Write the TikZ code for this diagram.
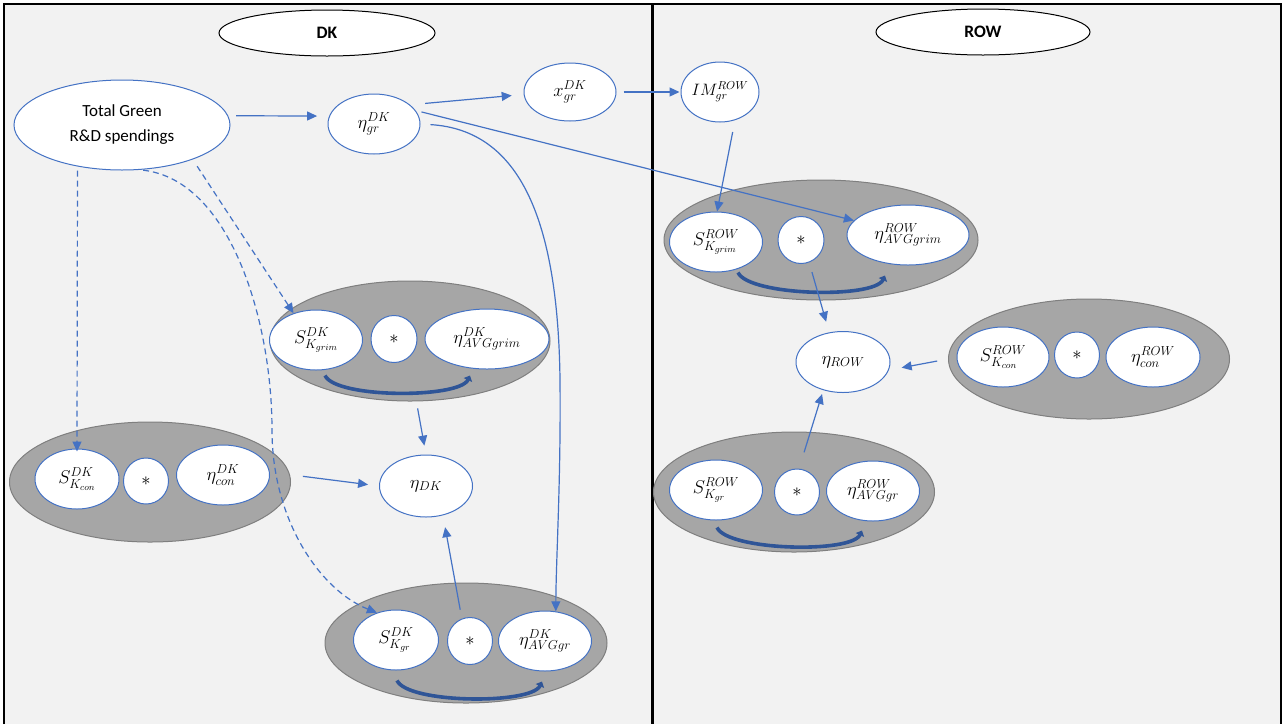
\RequirePackage{fix-cm}
\documentclass[tikz,border=0pt]{standalone}
\usepackage{fontspec}
\setmainfont{Carlito}
\usetikzlibrary{shapes.geometric,arrows.meta}
\definecolor{bl}{HTML}{4472C4}
\definecolor{dbl}{HTML}{2F5597}
\definecolor{bgc}{HTML}{F2F2F2}
\definecolor{grpc}{HTML}{A6A6A6}
\definecolor{grpb}{HTML}{7F7F7F}
\tikzset{
  e/.style 2 args={minimum width=#1, minimum height=#2},
  bub/.style={ellipse, draw=bl, fill=white, line width=1pt, inner sep=0pt, font=\fontsize{18.5}{21}\selectfont},
  ttl/.style={ellipse, draw=black, fill=white, line width=1pt, inner sep=0pt, minimum width=216, minimum height=46, font=\bfseries\fontsize{17.5}{20}\selectfont},
  grp/.style={ellipse, draw=grpb, fill=grpc, line width=1pt, inner sep=0pt},
  conn/.style={draw=bl, line width=1.2pt, -{Triangle[length=10pt 0,width=9pt 0]}},
  dconn/.style={conn, dash pattern=on 6pt off 4pt},
  swoosh/.style={draw=dbl, line width=3.6pt, -{Triangle[length=5pt 0,width=9pt 0]}}
}
\begin{document}
\begin{tikzpicture}[x=1pt,y=-1pt]
\useasboundingbox (0,0) rectangle (1284,724);
\fill[bgc] (4,4) rectangle (1281,724);
\draw[line width=2pt] (4,724) -- (4,4) -- (1281,4) -- (1281,724);
\draw[line width=3pt] (652,4) -- (652,724);

% titles
\node[ttl] (tdk) at (327,33) {DK};
\node[ttl, minimum width=214] (trow) at (983,32) {ROW};

% top nodes
\node[bub, e={216}{90}, align=center, font=\fontsize{17}{25}\selectfont] (tg) at (122,125) {Total Green\\R\&D spendings};
\node[bub, e={92}{60}] (egr) at (374,124) {$\eta^{DK}_{gr}$};
\node[bub, e={92}{58}] (xgr) at (570,92) {$x^{DK}_{gr}$};
\node[bub, e={78}{60}, inner xsep=-12pt, font=\fontsize{16.5}{19}\selectfont] (im) at (720,92) {$IM^{ROW}_{gr}$};

% DK grim group
\node[grp, e={280}{120}] (gA) at (410,341) {};
\node[bub, e={93}{60}] (aS) at (316,340) {$S^{DK}_{K_{grim}}$};
\node[bub, e={46}{47}] (aX) at (394,339) {$*$};
\node[bub, e={124}{60}] (aE) at (487,339) {$\eta^{DK}_{AVGgrim}$};

% DK con group
\node[grp, e={281}{120}] (gB) at (150,482) {};
\node[bub, e={84}{60}] (bS) at (77,479) {$S^{DK}_{K_{con}}$};
\node[bub, e={45}{46}] (bX) at (146,481) {$*$};
\node[bub, e={93}{60}] (bE) at (223,475) {$\eta^{DK}_{con}$};

% eta DK
\node[bub, e={93}{62}] (edk) at (426,486) {$\eta_{DK}$};

% DK gr group
\node[grp, e={282}{120}] (gC) at (466,643) {};
\node[bub, e={85}{60}] (cS) at (396,640) {$S^{DK}_{K_{gr}}$};
\node[bub, e={45}{47}] (cX) at (470,641) {$*$};
\node[bub, e={93}{60}] (cE) at (545,641) {$\eta^{DK}_{AVGgr}$};

% ROW grim group
\node[grp, e={314}{120}] (rA) at (821,240) {};
\node[bub, e={93}{60}] (raS) at (716,242) {$S^{ROW}_{K_{grim}}$};
\node[bub, e={46}{47}] (raX) at (801,240) {$*$};
\node[bub, e={122}{60}] (raE) at (908,235) {$\eta^{ROW}_{AVGgrim}$};

% eta ROW
\node[bub, e={94}{61}] (erow) at (843,362) {$\eta_{ROW}$};

% ROW con group
\node[grp, e={281}{120}] (rB) at (1089,359) {};
\node[bub, e={92}{60}] (rbS) at (1003,357) {$S^{ROW}_{K_{con}}$};
\node[bub, e={45}{46}] (rbX) at (1077,355) {$*$};
\node[bub, e={94}{60}] (rbE) at (1153,357) {$\eta^{ROW}_{con}$};

% ROW gr group
\node[grp, e={281}{120}] (rC) at (794,492) {};
\node[bub, e={93}{60}] (rcS) at (716,490) {$S^{ROW}_{K_{gr}}$};
\node[bub, e={45}{46}] (rcX) at (797,492) {$*$};
\node[bub, e={93}{60}] (rcE) at (873,491) {$\eta^{ROW}_{AVGgr}$};

% swooshes
\draw[swoosh] ([shift={(9,5)}]aS.south) to[out=-65,in=-115,looseness=0.45] ([shift={(-17,6)}]aE.south);
\draw[swoosh] ([shift={(1,10)}]cS.south) to[out=-65,in=-115,looseness=0.45] ([shift={(-3,10)}]cE.south);
\draw[swoosh] ([shift={(22,0)}]raS.south) to[out=-65,in=-115,looseness=0.45] ([shift={(-23,10)}]raE.south);
\draw[swoosh] ([shift={(1,7)}]rcS.south) to[out=-65,in=-115,looseness=0.45] ([shift={(-11,9)}]rcE.south);

% solid connectors
\draw[conn, shorten <=8pt, shorten >=12pt] (tg.5) -- (egr.170);
\draw[conn, shorten <=15pt, shorten >=12pt] (egr.28) -- (xgr.183);
\draw[conn, shorten <=7pt, shorten >=1pt] (xgr.east) -- (im.west);
\draw[conn, shorten <=6pt] (egr.18) -- (raE.165);
\draw[conn, shorten <=10pt] (egr.east) .. controls (520,130) and (558,220) .. (560,380) .. controls (561,480) and (556,560) .. (cE.70);
\draw[conn, shorten <=12pt] (im.-62) -- (raS.88);
\draw[conn, shorten <=7pt, shorten >=9pt] (gA.-84) -- (edk.north);
\draw[conn, shorten <=13pt, shorten >=11pt] (gB.3) -- (edk.west);
\draw[conn, shorten <=9pt, shorten >=12pt] (cX.110) -- (edk.-60);
\draw[conn, shorten <=10pt, shorten >=11pt] (raX.-70) -- (erow.115);
\draw[conn, shorten <=11pt, shorten >=13pt] (rB.west) -- (erow.-10);
\draw[conn, shorten <=17pt, shorten >=4pt] (rcX.85) -- (erow.-125);

% dashed connectors
\draw[dconn, shorten <=4pt, shorten >=-3pt] (tg.-137) -- (bS.north);
\draw[dconn, shorten <=8pt] (tg.-26) -- (aS.130);
\draw[dconn, shorten <=3pt] (tg.-68) .. controls (230,180) and (272,320) .. (272,430) .. controls (272,520) and (320,590) .. (cS.125);
\end{tikzpicture}
\end{document}
